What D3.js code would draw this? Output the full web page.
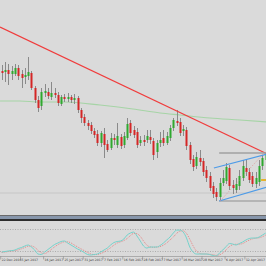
<!DOCTYPE html>
<html><head><meta charset="utf-8">
<script src="https://cdn.jsdelivr.net/npm/d3@7/dist/d3.min.js"></script>
<style>html,body{margin:0;padding:0;background:#dadada;overflow:hidden}</style>
</head><body>
<svg id="c" width="266" height="266"></svg>
<script>
// ---- data (daily candles, index = bar number) ----
const opens  = [114.4,114.3,114.5,114.1,114.1,114.7,114.1,113.8,113.9,114.2,112.7,111.5,110.9,112.2,112.3,111.8,112.2,112.0,111.1,111.8,111.6,111.8,111.5,111.7,110.5,109.8,109.2,109.0,108.4,108.1,107.2,108.1,107.1,106.7,107.7,107.0,107.8,107.0,107.7,109.2,108.5,108.3,107.2,107.5,107.5,107.8,107.4,106.3,107.2,107.7,107.2,107.7,108.7,109.4,109.3,108.4,108.5,107.0,105.6,104.9,105.7,105.4,104.5,103.9,102.9,102.3,101.8,103.2,103.4,104.7,103.0,102.5,102.9,103.7,104.7,104.3,103.9,103.1,103.3,104.9,105.5];
const highs  = [115.0,115.3,115.1,114.9,115.1,115.0,114.5,114.7,115.8,114.4,112.9,111.9,112.7,113.1,112.7,113.3,112.7,112.3,112.0,112.1,112.2,112.0,112.1,111.9,110.7,110.1,109.5,109.3,108.7,108.5,108.4,108.7,107.5,108.2,108.1,109.2,108.1,108.3,109.7,109.5,108.9,108.7,107.9,108.0,108.5,108.5,107.7,107.5,108.3,108.5,108.3,109.0,109.7,110.5,109.7,109.0,108.8,107.3,106.0,106.3,106.5,105.7,104.9,104.3,103.3,102.7,103.7,104.5,105.2,105.0,103.5,103.7,104.5,105.5,105.5,104.7,104.3,104.3,105.5,106.0,106.5];
const lows   = [113.5,113.3,113.0,113.5,113.9,113.5,112.7,113.1,113.5,112.5,111.2,110.3,110.5,111.8,111.6,111.5,111.7,110.9,110.9,111.3,111.3,111.2,111.1,110.2,109.2,108.9,108.5,108.1,107.7,106.9,106.8,105.7,106.3,106.5,107.0,106.7,106.6,106.7,107.5,107.9,107.7,106.7,106.9,106.9,107.2,107.1,105.5,105.7,106.8,106.9,107.0,107.4,108.4,108.9,107.9,107.9,106.5,105.1,104.4,104.6,104.9,103.9,103.3,102.4,101.7,101.4,101.5,102.9,103.1,102.5,102.1,102.2,102.5,103.4,103.9,103.2,102.8,102.7,102.9,104.5,105.0];
const closes = [114.2,114.5,114.1,114.4,114.7,113.9,113.7,114.0,114.3,112.7,111.5,110.7,112.3,112.4,111.9,112.2,112.0,111.2,111.8,111.6,111.8,111.5,111.7,110.5,109.7,109.2,108.9,108.4,108.0,107.2,108.2,107.0,106.5,107.7,107.5,107.9,106.9,107.9,109.1,108.2,108.0,107.0,107.5,107.3,107.9,107.5,106.0,107.2,107.5,107.2,107.9,108.7,109.5,109.2,108.2,108.6,106.9,105.5,104.8,105.8,105.3,104.3,103.7,102.7,102.1,101.8,103.2,103.7,104.8,102.9,102.7,103.1,103.9,104.9,104.3,103.5,103.1,103.7,104.9,105.7,106.2];

// moving average (bar index, price)
const maPoints = [[-0.5,111.4],[5.5,111.4],[11.6,111.3],[19.2,111.3],[29.8,111.0],[39.8,110.6],[48,110.2],[54,110.0],[63.1,109.7],[72.2,109.5],[80.5,109.3]];
// drawn objects
const trendLine   = [[-0.5,118.8],[80.5,106.1]];
const channelUp   = [[64.3,104.7],[80.5,106.1]];
const channelLow  = [[65.9,101.4],[80.5,102.8]];
const diagDotted  = [[66.2,101.4],[79.5,106.2]];
const topLevel    = [[65.9,106.2],[80.5,106.2]];
const bottomLevel = [[65.9,101.4],[80.5,101.4]];
const orangeLevel = [[78.6,103.5],[80.5,103.5]];
const faintLevel  = 102.2;

// stochastic oscillator
const stochMain = [17,18.5,20,21,22.6,26.7,29.5,33.5,36.3,30.8,22.6,11.7,10.4,17,24,30.8,37.6,41.7,45.8,47.2,41.7,36.3,30.8,25.4,21.3,15.8,10.4,9,10.4,11.7,17,22.6,28,36.3,43,45.8,47.2,52.6,63.5,69,71.7,60.8,47.2,33.5,28,30.8,30.8,30.8,35,41.7,50,58,69,77,77,71.7,55.4,30.8,17,11.7,11.7,11.7,11.7,10.4,7.6,6.3,14.5,22.6,32,40.3,39,36.3,40.3,44.5,50,54,55.4,55.4,58,63.5,69];
const stochSignal = [16,17,18.5,20,21,23,26,29.5,33,33.5,30,22,15,13,17,24,31,37,41.7,45,45,42,36.3,31,26,21,16,12,10,10.4,13,17,22.6,29,36,41.7,45,48.5,54,62,68,67,60,47,36,31,30,30.8,32,36,42,50,58,68,74,75,68,52,34,20,13.5,12,11.7,11,10,8,9.5,14.5,23,32,37,38.5,38.5,40.3,45,49.5,53,55,56,59,63.5];
const stochLevels = [80,20];

// date labels and the bar index where each starts
const tickIdx    = [0,6,13,19,25,31,37,43,49,55,61,68,74];
const tickLabels = ["22 Dec 2016","5 Jan 2017","16 Jan 2017","25 Jan 2017","31 Jan 2017","7 Feb 2017","16 Feb 2017","28 Feb 2017","7 Mar 2017","16 Mar 2017","28 Mar 2017","6 Apr 2017","12 Apr 2017"];

// ---- drawing ----
const svg = d3.select("#c");
const W = 266;
const x = d3.scaleLinear().domain([0, 80]).range([1.7, 265.7]);
const y = d3.scaleLinear().domain([100, 121.5]).range([215, 0]);
const yo = d3.scaleLinear().domain([0, 100]).range([258.3, 221.7]);

svg.append("rect").attr("width",W).attr("height",266).attr("fill","#dadada");
const defs = svg.append("defs");
defs.append("clipPath").attr("id","mainClip").append("rect").attr("x",0).attr("y",0).attr("width",W).attr("height",215);
defs.append("clipPath").attr("id","oscClip").append("rect").attr("x",0).attr("y",221).attr("width",W).attr("height",35);

const main = svg.append("g").attr("clip-path","url(#mainClip)");
const line = d3.line().x(d=>x(d[0])).y(d=>y(d[1]));

main.append("line").attr("x1",0).attr("x2",W).attr("y1",y(faintLevel)).attr("y2",y(faintLevel))
  .attr("stroke","#c6c6c6").attr("stroke-width",1);

main.append("path").datum(maPoints).attr("d", d3.line().x(d=>x(d[0])).y(d=>y(d[1])).curve(d3.curveMonotoneX))
  .attr("fill","none").attr("stroke","#a6d4a6").attr("stroke-width",1.2);

const bars = d3.range(opens.length).map(i=>({i,o:opens[i],h:highs[i],l:lows[i],c:closes[i]}));
main.selectAll(".wick").data(bars).join("line")
  .attr("x1",d=>Math.round(x(d.i))+0.5).attr("x2",d=>Math.round(x(d.i))+0.5)
  .attr("y1",d=>y(d.h)).attr("y2",d=>y(d.l)).attr("stroke","#8a8a8a").attr("stroke-width",1);
main.selectAll(".body").data(bars).join("rect")
  .attr("x",d=>Math.round(x(d.i))-0.5).attr("width",2)
  .attr("y",d=>y(Math.max(d.o,d.c))).attr("height",d=>Math.max(1,Math.abs(y(d.o)-y(d.c))))
  .attr("fill",d=>d.c>=d.o?"#2fa82f":"#d42626");

main.append("path").datum(trendLine).attr("d",line).attr("fill","none").attr("stroke","#f03c3c").attr("stroke-width",1.2);
main.append("path").datum(topLevel).attr("d",line).attr("fill","none").attr("stroke","#a0a0a0").attr("stroke-width",1.5);
main.append("path").datum(bottomLevel).attr("d",line).attr("fill","none").attr("stroke","#909090").attr("stroke-width",1.2);
main.append("path").datum(channelUp).attr("d",line).attr("fill","none").attr("stroke","#4d9be8").attr("stroke-width",1.2);
main.append("path").datum(channelLow).attr("d",line).attr("fill","none").attr("stroke","#4d9be8").attr("stroke-width",1.2);
main.append("path").datum(diagDotted).attr("d",line).attr("fill","none").attr("stroke","#e09090").attr("stroke-width",0.8).attr("stroke-dasharray","1,1.5");
main.append("path").datum(orangeLevel).attr("d",line).attr("fill","none").attr("stroke","#e8a800").attr("stroke-width",1.6);

// separator
svg.append("rect").attr("x",0).attr("y",215).attr("width",W).attr("height",1).attr("fill","#6a6a6a");
svg.append("rect").attr("x",0).attr("y",216).attr("width",W).attr("height",3).attr("fill","#8796ab");
svg.append("rect").attr("x",0).attr("y",219).attr("width",W).attr("height",2).attr("fill","#2c2c2c");

// oscillator
const osc = svg.append("g").attr("clip-path","url(#oscClip)");
osc.selectAll(".lvl").data(stochLevels).join("line")
  .attr("x1",0).attr("x2",W).attr("y1",d=>Math.round(yo(d))+0.5).attr("y2",d=>Math.round(yo(d))+0.5)
  .attr("stroke","#9a9a9a").attr("stroke-width",0.7).attr("stroke-dasharray","1,1.5");
const oline = d3.line().x((d,i)=>x(i)).y(d=>yo(d)).curve(d3.curveMonotoneX);
osc.append("path").datum(stochSignal).attr("d",oline).attr("fill","none").attr("stroke","#e77f7f").attr("stroke-width",0.9).attr("stroke-dasharray","1,1");
osc.append("path").datum(stochMain).attr("d",oline).attr("fill","none").attr("stroke","#74d3cc").attr("stroke-width",1);

// date axis
svg.append("line").attr("x1",0).attr("x2",W).attr("y1",256.5).attr("y2",256.5).attr("stroke","#8c8c8c").attr("stroke-width",0.6);
const axis = d3.axisBottom(x).tickValues(tickIdx).tickFormat((d,i)=>tickLabels[i]).tickSize(3).tickSizeOuter(0);
const ag = svg.append("g").attr("transform","translate(0,256.5)").call(axis);
ag.select(".domain").remove();
ag.selectAll(".tick line").attr("stroke","#777").attr("stroke-width",0.5).attr("transform","translate(-1.5,0)");
ag.selectAll(".tick text").attr("text-anchor","start").attr("x",-0.5).attr("y",2)
  .attr("font-family","DejaVu Sans, sans-serif").attr("font-size",3.1).attr("fill","#404040");
</script>
</body></html>
